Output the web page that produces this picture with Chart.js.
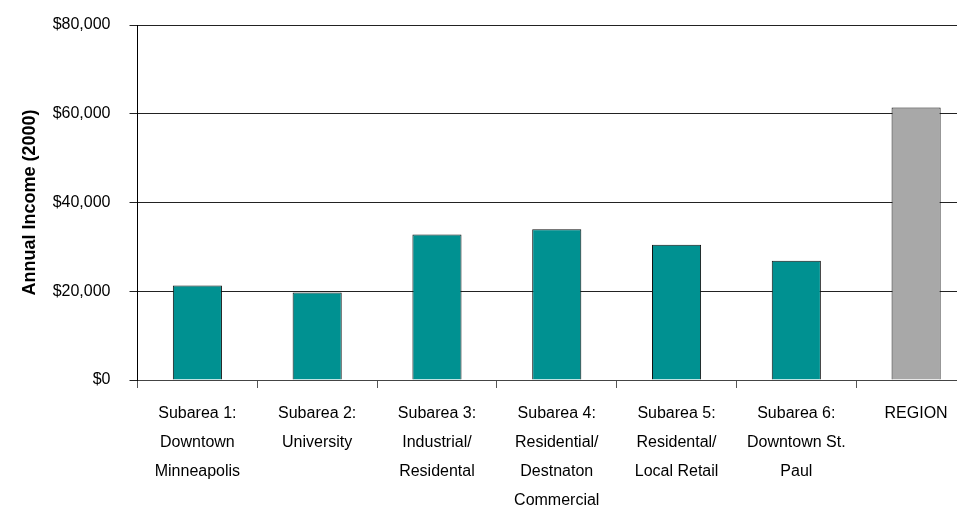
<!DOCTYPE html>
<html>
<head>
<meta charset="utf-8">
<script src="https://cdn.jsdelivr.net/npm/chart.js@4/dist/chart.umd.min.js"></script>
<style>
  html, body { margin: 0; padding: 0; background: #fff; overflow: hidden; }
  #wrap { position: relative; width: 976px; height: 510px; }
</style>
</head>
<body>
<div id="wrap"><canvas id="incomeChart"></canvas></div>
<script>
// Annual income by subarea (2000)
const categories = [
    ['Subarea 1:', 'Downtown', 'Minneapolis'],
    ['Subarea 2:', 'University'],
    ['Subarea 3:', 'Industrial/', 'Residental'],
    ['Subarea 4:', 'Residential/', 'Destnaton', 'Commercial'],
    ['Subarea 5:', 'Residental/', 'Local Retail'],
    ['Subarea 6:', 'Downtown St.', 'Paul'],
    'REGION'
];
const incomeValues = [21300, 19700, 32800, 34000, 30500, 26900, 61400];
const barColors = ['#009191', '#009191', '#009191', '#009191', '#009191', '#009191', '#a8a8a8'];
const yTicks = [0, 20000, 40000, 60000, 80000];

const fontFamily = '"Liberation Sans", Arial, sans-serif';

new Chart(document.getElementById('incomeChart'), {
    type: 'bar',
    data: {
        labels: categories,
        datasets: [{
            data: incomeValues,
            backgroundColor: barColors,
            borderColor: '#111',
            borderWidth: 1,
            barPercentage: 0.41,
            categoryPercentage: 1
        }]
    },
    options: {
        responsive: true,
        maintainAspectRatio: false,
        animation: false,
        layout: { padding: { top: 25, left: 0, right: 0, bottom: 0 } },
        plugins: {
            legend: { display: false },
            tooltip: { enabled: false }
        },
        scales: {
            x: {
                grid: {
                    offset: true,
                    drawOnChartArea: false,
                    drawTicks: true,
                    tickLength: 8,
                    color: '#555'
                },
                border: { display: true, color: '#444', width: 1 },
                ticks: {
                    autoSkip: false,
                    maxRotation: 0,
                    minRotation: 0,
                    padding: 11,
                    color: '#000',
                    font: { family: fontFamily, size: 16, lineHeight: 1.82 }
                },
                afterFit: (scale) => { scale.height = 130; }
            },
            y: {
                min: 0,
                max: 80000,
                afterBuildTicks: (scale) => {
                    scale.ticks = yTicks.map(v => ({ value: v }));
                },
                grid: {
                    color: '#222',
                    lineWidth: 1,
                    tickLength: 8
                },
                border: { display: true, color: '#000', width: 1 },
                ticks: {
                    padding: 19,
                    color: '#000',
                    font: { family: fontFamily, size: 16 },
                    callback: (v) => '$' + Number(v).toLocaleString('en-US')
                },
                title: {
                    display: true,
                    text: 'Annual Income (2000)',
                    color: '#000',
                    padding: { top: 19, bottom: 0 },
                    font: { family: fontFamily, size: 18, weight: 'bold', lineHeight: 1.2 }
                },
                afterFit: (scale) => {
                    scale.width = 137.5;
                    // tick padding would otherwise push the plot down
                    scale.paddingTop = 0;
                    scale.paddingBottom = 0;
                }
            }
        }
    }
});
</script>
</body>
</html>
